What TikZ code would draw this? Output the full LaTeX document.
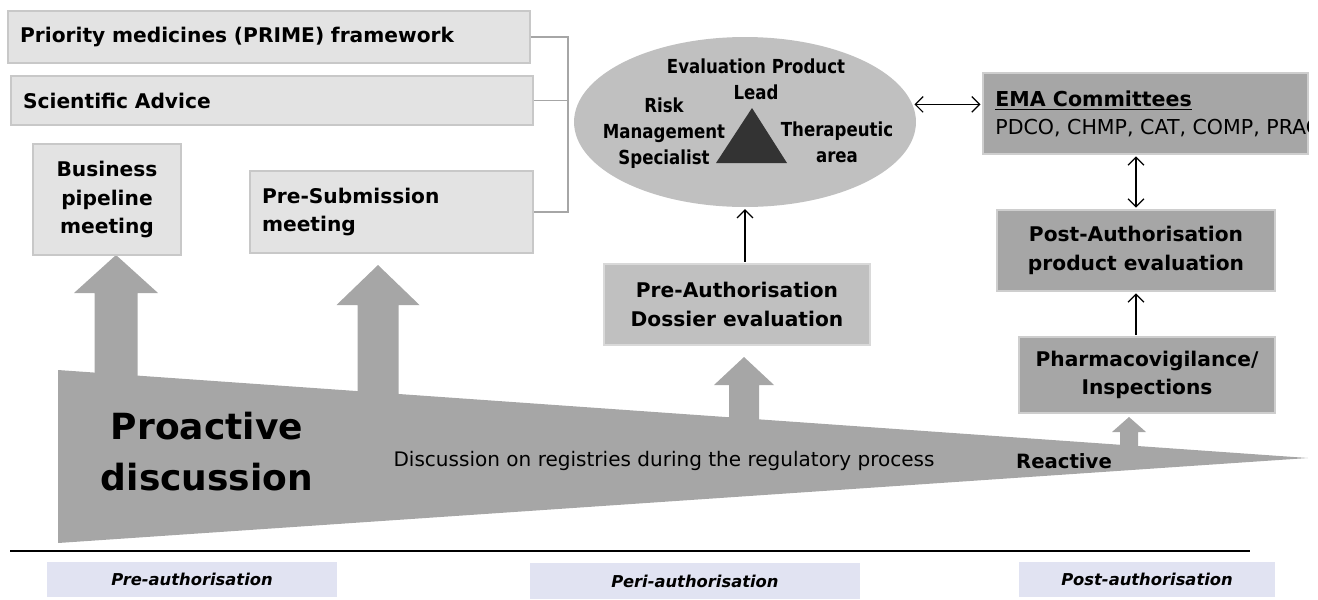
\documentclass[tikz,border=0pt]{standalone}
\usepackage{fontspec}
\setmainfont{DejaVu Sans}
\newfontfamily\narrowfont[FakeStretch=0.86]{DejaVu Sans}
\usetikzlibrary{shapes.geometric,arrows.meta}

\definecolor{cLight}{HTML}{E3E3E3}
\definecolor{cMid}{HTML}{C0C0C0}
\definecolor{cDark}{HTML}{A6A6A6}
\definecolor{cPhase}{HTML}{E1E3F2}
\definecolor{cTri}{HTML}{333333}

\tikzset{
  lightbox/.style={fill=cLight, draw=cLight!88!black, line width=0.8pt},
  midbox/.style={fill=cMid, draw=cMid!60!white, line width=0.8pt},
  darkbox/.style={fill=cDark, draw=cDark!55!white, line width=0.8pt},
  phasebox/.style={fill=cPhase, minimum height=0.7cm,
    font=\fontsize{9.3}{11}\selectfont\bfseries\itshape},
  teamtext/.style={align=center, font=\narrowfont\fontsize{11}{14.7}\selectfont\bfseries},
  bracket/.style={draw=gray!70, line width=0.9pt},
  link/.style={line width=0.7pt, >={Straight Barb[length=4.5pt,width=9pt]}, shorten >=1pt, shorten <=1pt}
}

\begin{document}
\begin{tikzpicture}[x=0.02cm, y=-0.02cm,
  every node/.style={inner sep=0pt, font=\fontsize{11.5}{16.4}\selectfont\bfseries}]

  \useasboundingbox (0,0) rectangle (1318,599);
  \clip (0,0) rectangle (1318,599);

  % the wedge and the arrows rising out of it
  \foreach \x/\tip/\head/\hw/\sw/\foot in {116/255/293/42/21.5/400, 378/265/305/41.5/20.5/420,
      744/357/385/30/15/440, 1129/417/432/17/9/460}
    \fill[cDark] (\x,\tip) -- (\x+\hw,\head) -- (\x+\sw,\head) -- (\x+\sw,\foot)
      -- (\x-\sw,\foot) -- (\x-\sw,\head) -- (\x-\hw,\head) -- cycle;
  \fill[cDark] (58,370) -- (1308,458) -- (58,543) -- cycle;

  \node[align=center, font=\fontsize{20.5}{29}\selectfont\bfseries] (proactive) at (207,452) {Proactive\\discussion};
  \node[font=\fontsize{11.4}{14}\selectfont] (registries) at (664,461) {Discussion on registries during the regulatory process};
  \node[font=\fontsize{11.2}{14}\selectfont\bfseries] (reactive) at (1064,461) {Reactive};

  % pre-authorisation boxes
  \node[lightbox, minimum width=10.44cm, minimum height=1.04cm, text width=9.96cm, align=left] (prime) at (269,37) {Priority medicines (PRIME) framework};
  \node[lightbox, minimum width=10.44cm, minimum height=0.98cm, text width=9.96cm, align=left] (advice) at (272,100.5) {Scientific Advice};
  \node[lightbox, minimum width=2.96cm, minimum height=2.22cm, align=center] (pipeline) at (107,199.5) {Business\\pipeline\\meeting};
  \node[lightbox, minimum width=5.66cm, minimum height=1.64cm, text width=5.18cm, align=left] (presub) at (391.5,212) {Pre-Submission\\meeting};

  % bracket joining them to the team
  \coordinate (brtop) at (568,37);
  \coordinate (brbot) at (568,212);
  \draw[bracket] (prime.east) -- (brtop) -- (brbot) -- (presub.east);
  \draw[bracket] (advice.east) -- (advice.east -| brtop);

  % evaluation team
  \node[ellipse, fill=cMid, minimum width=6.84cm, minimum height=3.4cm] (team) at (745,122) {};
  \fill[cTri] (716,163) -- (787,163) -- (752,108) -- cycle;
  \node[teamtext] (lead) at (756,79) {Evaluation Product\\Lead};
  \node[teamtext] (risk) at (664,133) {Risk\\Management\\Specialist};
  \node[teamtext] (area) at (837,142) {Therapeutic\\area};

  \node[midbox, minimum width=5.32cm, minimum height=1.62cm, align=center] (dossier) at (737,304.5) {Pre-Authorisation\\Dossier evaluation};

  % post-authorisation side, committee list cut at the box edge
  \node[darkbox, minimum width=6.5cm, minimum height=1.62cm] (ema) at (1145.5,113.5) {};
  \begin{scope}
    \clip (ema.south west) rectangle (ema.north east);
    \node[anchor=west, align=left, font=\fontsize{11.7}{15.9}\selectfont] (emalist) at (995,113.5)
      {\textbf{\underline{EMA Committees}}\\\mbox{PDCO, CHMP, CAT, COMP, PRAC}};
  \end{scope}
  \node[darkbox, minimum width=5.56cm, minimum height=1.62cm, align=center] (postauth) at (1136,250.5) {Post-Authorisation\\product evaluation};
  \node[darkbox, minimum width=5.12cm, minimum height=1.52cm, align=center] (pv) at (1147,375) {Pharmacovigilance/\\Inspections};

  \draw[link, <->] (team.6) -- (team.6 -| ema.west);
  \draw[link, <->] (postauth.north) -- (postauth.north |- ema.south);
  \draw[link, ->] (pv.north -| postauth.north) -- (postauth.south);
  \draw[link, ->] (dossier.north -| team.south) -- (team.south);

  % time axis
  \coordinate (axisL) at (10,551);
  \coordinate (axisR) at (1250,551);
  \draw[line width=1pt] (axisL) -- (axisR);
  \node[phasebox, minimum width=5.8cm] (pre) at (192,579.5) {Pre-authorisation};
  \node[phasebox, minimum width=6.6cm, minimum height=0.72cm] (peri) at (695,581) {Peri-authorisation};
  \node[phasebox, minimum width=5.12cm] (post) at (1147,579.5) {Post-authorisation};

\end{tikzpicture}
\end{document}
